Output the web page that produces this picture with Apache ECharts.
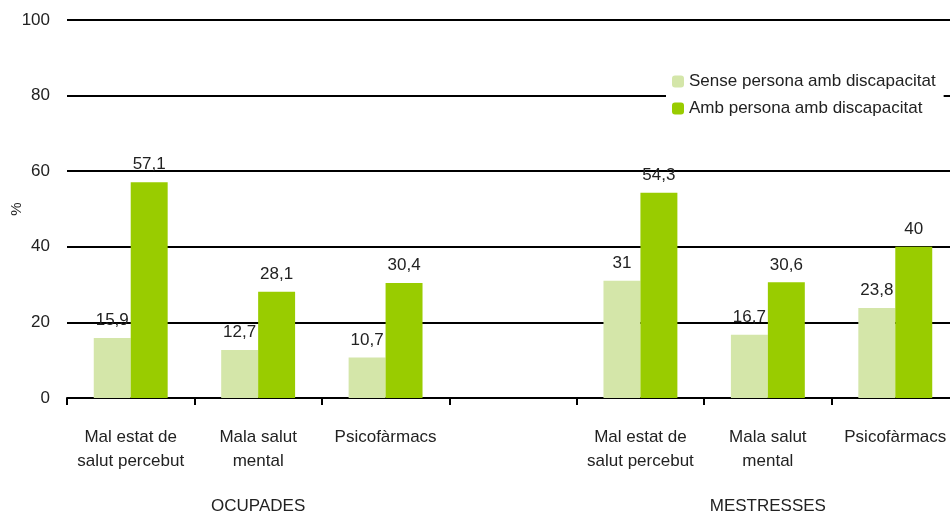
<!DOCTYPE html>
<html>
<head>
<meta charset="utf-8">
<script src="https://cdn.jsdelivr.net/npm/echarts@6/dist/echarts.min.js"></script>
<style>
  html, body { margin: 0; padding: 0; background: #fff; }
  #chart { width: 950px; height: 514px; }
</style>
</head>
<body>
<div id="chart"></div>
<script>
// categories: 3 for each group, with an empty slot between them
const categories = ['Mal estat de\nsalut percebut', 'Mala salut\nmental', 'Psicofàrmacs', '',
  'Mal estat de\nsalut percebut', 'Mala salut\nmental', 'Psicofàrmacs']
const groups = ['', 'OCUPADES', '', '', '', 'MESTRESSES', '']
const senseValues = [15.9, 12.7, 10.7, '-', 31, 16.7, 23.8]
const ambValues = [57.1, 28.1, 30.4, '-', 54.3, 30.6, 40]
const seriesNames = ['Sense persona amb discapacitat', 'Amb persona amb discapacitat']

const font = '"Liberation Sans Narrow", "Liberation Sans", Arial, sans-serif'
const chart = echarts.init(document.getElementById('chart'))

const labelOpt = {
  show: true,
  position: 'top',
  distance: 9,
  color: '#222',
  fontFamily: font,
  fontSize: 17,
  formatter: (p) => String(p.value).replace('.', ',')
}

chart.setOption({
  animation: false,
  textStyle: { fontFamily: font },
  legend: {
    orient: 'vertical',
    left: 666,
    top: 69,
    itemWidth: 12,
    itemHeight: 12,
    itemGap: 10,
    padding: [4, 8, 4, 6],
    backgroundColor: '#fff',
    textStyle: { fontFamily: font, fontSize: 17, color: '#222' },
    data: seriesNames
  },
  grid: {
    left: 67,
    right: -9,
    top: 20,
    bottom: 116,
    outerBoundsMode: 'none',
    containLabel: false
  },
  xAxis: [
    {
      type: 'category',
      data: categories,
      axisLine: { lineStyle: { color: '#000', width: 2 } },
      axisTick: { show: true, length: 7, lineStyle: { color: '#000', width: 2 } },
      axisLabel: {
        color: '#222',
        fontFamily: font,
        fontSize: 17,
        margin: 27,
        lineHeight: 24,
        interval: 0
      }
    },
    {
      type: 'category',
      position: 'bottom',
      offset: 92,
      data: groups,
      axisLine: { show: false },
      axisTick: { show: false },
      axisLabel: { color: '#222', fontFamily: font, fontSize: 17, interval: 0 }
    }
  ],
  yAxis: {
    type: 'value',
    min: 0,
    max: 100,
    interval: 20,
    name: '%',
    nameLocation: 'middle',
    nameRotate: 90,
    nameGap: 43,
    nameMoveOverlap: false,
    nameTextStyle: { color: '#222', fontFamily: font, fontSize: 15 },
    axisLine: { show: false },
    axisTick: { show: false },
    axisLabel: { color: '#222', fontFamily: font, fontSize: 17, margin: 17 },
    splitLine: { lineStyle: { color: '#000', width: 2 } }
  },
  series: [
    {
      name: seriesNames[0],
      type: 'bar',
      data: senseValues,
      barGap: '0%',
      barCategoryGap: '42%',
      itemStyle: { color: '#d4e6a9' },
      label: labelOpt
    },
    {
      name: seriesNames[1],
      type: 'bar',
      data: ambValues,
      itemStyle: { color: '#99cc00' },
      label: labelOpt
    }
  ]
})
</script>
</body>
</html>
